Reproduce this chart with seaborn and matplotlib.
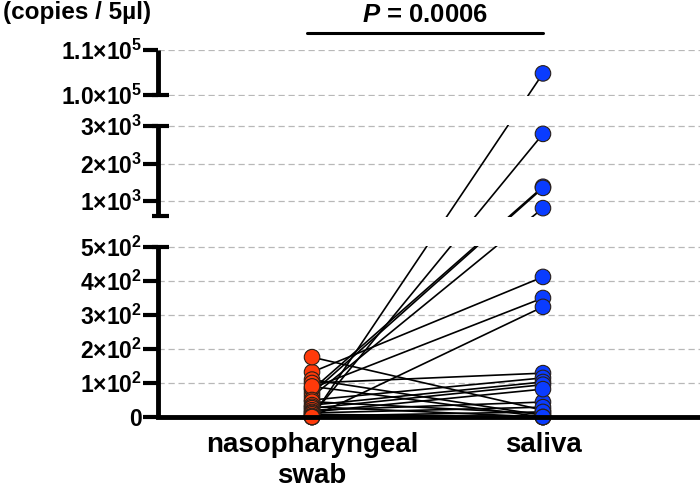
import numpy as np
import pandas as pd
import matplotlib
matplotlib.use("Agg")
import matplotlib.pyplot as plt
import seaborn as sns

# ---------------- data ----------------
groups = ["nasopharyngeal\nswab", "saliva"]
swab = [0, 5, 80, 70, 60, 132, 85, 0, 176,
        110, 100, 90, 50, 45, 35, 30, 26, 20, 15, 12, 8, 3, 0, 0]
saliva = [104800, 2790, 1380, 1350, 810, 412, 350, 324, 20,
          5, 129, 0, 115, 10, 103, 0, 95, 44, 82, 29, 0, 15, 0, 0]
ytick_vals = [0, 100, 200, 300, 400, 500, 1000, 2000, 3000, 100000, 110000]
ytick_labels = ["0", r"$\mathbf{1{\times}10^{2}}$", r"$\mathbf{2{\times}10^{2}}$",
                r"$\mathbf{3{\times}10^{2}}$", r"$\mathbf{4{\times}10^{2}}$",
                r"$\mathbf{5{\times}10^{2}}$", r"$\mathbf{1{\times}10^{3}}$",
                r"$\mathbf{2{\times}10^{3}}$", r"$\mathbf{3{\times}10^{3}}$",
                r"$\mathbf{1.0{\times}10^{5}}$", r"$\mathbf{1.1{\times}10^{5}}$"]
segments = [(0, 500), (600, 3000), (100000, 110000)]
p_text = r"$P$ = 0.0006"
y_title = "(copies / 5µl)"

# broken-axis mapping (value breakpoints -> screen units)
BV = np.array([0, 500, 600, 3000, 100000, 110000], float)
BP = np.array([0, 170, 201, 291, 322, 367], float)


def _pw(y, xs, ys):
    y = np.asarray(y, float)
    out = np.interp(y, xs, ys)
    lo_s = (ys[1] - ys[0]) / (xs[1] - xs[0])
    hi_s = (ys[-1] - ys[-2]) / (xs[-1] - xs[-2])
    out = np.where(y < xs[0], ys[0] + (y - xs[0]) * lo_s, out)
    out = np.where(y > xs[-1], ys[-1] + (y - xs[-1]) * hi_s, out)
    return out


def fwd(y):
    return _pw(y, BV, BP)


def inv(p):
    return _pw(p, BP, BV)


# ---------------- style ----------------
sns.set_style("white")
plt.rcParams["font.family"] = ["Liberation Sans", "DejaVu Sans"]
plt.rcParams["font.weight"] = "bold"
plt.rcParams["text.color"] = "black"
plt.rcParams["xtick.color"] = "black"
plt.rcParams["ytick.color"] = "black"
plt.rcParams["xtick.labelcolor"] = "black"
plt.rcParams["ytick.labelcolor"] = "black"
plt.rcParams["mathtext.fontset"] = "custom"
plt.rcParams["mathtext.rm"] = "Liberation Sans:bold"
plt.rcParams["mathtext.bf"] = "Liberation Sans:bold"
plt.rcParams["mathtext.it"] = "Liberation Sans:italic:bold"

n = len(swab)
df = pd.DataFrame({
    "group": [groups[0]] * n + [groups[1]] * n,
    "value": swab + saliva,
    "pair": list(range(n)) * 2,
})

fig = plt.figure(figsize=(7, 4.92), dpi=100)
ax = fig.add_axes([158 / 700, 1 - 417 / 492, (700 - 158) / 700, 367 / 492])
ax.set_yscale("function", functions=(fwd, inv))

sns.lineplot(data=df, x="group", y="value", units="pair", estimator=None,
             color="black", lw=1.2, sort=False, ax=ax, zorder=2, legend=False)
sns.scatterplot(data=df, x="group", y="value", hue="group",
                palette={groups[0]: "#ff3a0a", groups[1]: "#0a3cff"},
                s=125, edgecolor="#2a2018", linewidth=0.8, ax=ax,
                zorder=3, clip_on=False, legend=False)

ax.set_ylim(0, 110000)
ax.set_xlim(-0.667, 1.68)

# gaps of the broken axis
for (a0, a1), (b0, b1) in zip(segments[:-1], segments[1:]):
    lo = float(inv(fwd(a1) + 0.7))
    hi = float(inv(fwd(b0) - 0.7))
    ax.axhspan(lo, hi, color="white", zorder=2.5, lw=0)

# grid
ax.set_yticks(ytick_vals)
ax.set_yticklabels(ytick_labels)
ax.set_axisbelow(True)
ax.yaxis.grid(True, color="#b8b8b8", linestyle=(0, (5, 3)), linewidth=0.9)
ax.xaxis.grid(False)

# spines
for s in ["top", "right", "left"]:
    ax.spines[s].set_visible(False)
ax.spines["bottom"].set_linewidth(3.5)
ax.spines["bottom"].set_color("black")
ax.spines["bottom"].set_zorder(4)

ytr = ax.get_yaxis_transform()
for a0, a1 in segments:
    ax.plot([0, 0], [a0, a1], color="black", lw=3.5, transform=ytr,
            clip_on=False, zorder=5, solid_capstyle="butt")
for v in [500, 600, 3000, 100000]:
    ax.plot([-0.011, 0.02], [v, v], color="black", lw=3, transform=ytr,
            clip_on=False, zorder=5, solid_capstyle="butt")

ax.tick_params(axis="y", direction="out", length=10.5, width=3, color="black",
               labelsize=16.5, pad=1, left=True, labelcolor="black")
ax.tick_params(axis="x", length=0, labelsize=20, pad=11, labelcolor="black")
for lab in ax.get_yticklabels():
    lab.set_fontweight("bold")
for lab in ax.get_xticklabels():
    lab.set_fontweight("bold")
    lab.set_linespacing(1.25)
ax.set_xlabel("")
ax.set_ylabel("")

# title-like y label and P value
fig.text(3 / 700, 1 - 13 / 492, y_title, ha="left", va="center",
         fontsize=17.5, fontweight="bold", color="black")
xtr = ax.get_xaxis_transform()
ax.plot([-0.02, 1.0], [1.046, 1.046], color="black", lw=2.2, transform=xtr,
        clip_on=False)
ax.text(0.49, 1.095, p_text, transform=xtr, ha="center", va="center",
        fontsize=18.5, fontweight="bold", color="black")

fig.savefig("out.png", dpi=100, facecolor="white")
